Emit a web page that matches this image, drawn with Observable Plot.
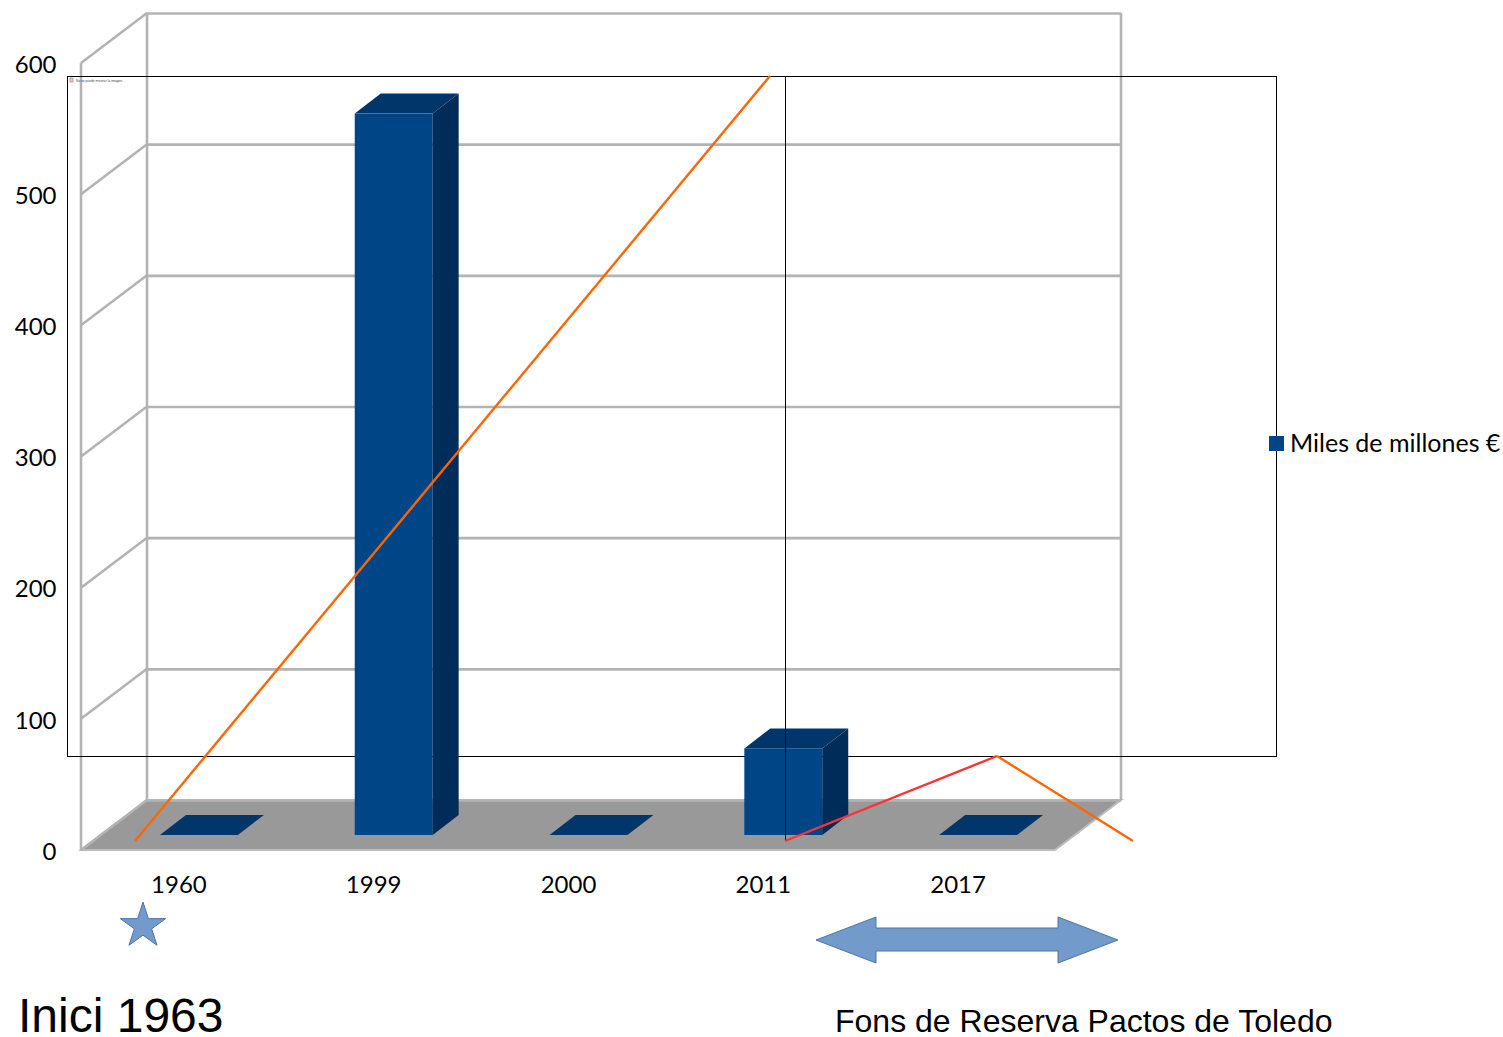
<!DOCTYPE html>
<html lang="es">
<head>
<meta charset="utf-8">
<title>Miles de millones €</title>
<script src="https://cdn.jsdelivr.net/npm/d3@7"></script>
<script src="https://cdn.jsdelivr.net/npm/@observablehq/plot@0.6"></script>
<style>
  html, body { margin: 0; padding: 0; background: #fff; }
  svg { display: block; }
</style>
</head>
<body>
<div id="chart"></div>
<script>
const years = ["1960", "1999", "2000", "2011", "2017"];
const values = [0, 550, 0, 66, 0];
const yTicks = [0, 100, 200, 300, 400, 500, 600];
const seriesName = "Miles de millones €";
const table = years.map((year, i) => ({year, value: values[i]}));

const poly = (c) => c.map((p) => p.join(",")).join(" ");
const WALL = "#b3b3b3";
const labelFont = "Lato, sans-serif";
const noteFont = "'Liberation Sans', Arial, sans-serif";

/* receding floor and wall frame, driven by the y scale */
function room(index, {x, y}) {
  const g = d3.create("svg:g");
  const [l, r] = [81, 1055];
  const D = [66, -50];
  g.append("polygon")
    .attr("points", poly([[l, y(0)], [r, y(0)], [r + D[0], y(0) + D[1]], [l + D[0], y(0) + D[1]]]))
    .attr("fill", "#999").attr("stroke", "#bdbdbd").attr("stroke-width", 2);
  const side = g.append("g").attr("stroke", WALL).attr("stroke-width", 2.6);
  side.selectAll("line.s").data(yTicks).join("line")
    .attr("x1", l).attr("x2", l + D[0])
    .attr("y1", (v) => y(v)).attr("y2", (v) => y(v) + D[1]);
  for (const xp of [l, l + D[0], r + D[0]]) {
    const off = xp === l ? 0 : D[1];
    side.append("line").attr("x1", xp).attr("x2", xp).attr("y1", y(600) + off).attr("y2", y(0) + off);
  }
  return g.node();
}

/* top and side faces of each bar */
function faces(index, {x, y}) {
  const g = d3.create("svg:g");
  const bw = typeof x.bandwidth === "function" ? x.bandwidth() : x.bandwidth;
  const ox = 20.5, oy = -15, dx = 26, dy = -20;
  for (const d of table) {
    const x0 = x(d.year) + ox, x1 = x0 + bw, yb = y(0) + oy, yt = y(d.value) + oy;
    if (d.value > 0) {
      g.append("polygon")
        .attr("points", poly([[x1, yb], [x1 + dx, yb + dy], [x1 + dx, yt + dy], [x1, yt]]))
        .attr("fill", "#002c59");
    }
    g.append("polygon")
      .attr("points", poly([[x0, yt], [x0 + dx, yt + dy], [x1 + dx, yt + dy], [x1, yt]]))
      .attr("fill", "#00366a");
  }
  return g.node();
}

/* placeholder image box that sits behind the bars */
function placeholderBox() {
  const g = d3.create("svg:g");
  g.append("rect").attr("x", 67.5).attr("y", 76.5).attr("width", 1209).attr("height", 680)
    .attr("fill", "none").attr("stroke", "#000").attr("stroke-width", 1);
  g.append("rect").attr("x", 70).attr("y", 78).attr("width", 3).attr("height", 4)
    .attr("fill", "#fbb").attr("stroke", "#888").attr("stroke-width", 0.6);
  g.append("text").attr("x", 76).attr("y", 81.5).text("No se puede mostrar la imagen.")
    .attr("text-anchor", "start")
    .attr("font-size", 3.3).attr("fill", "#444").attr("font-family", noteFont);
  return g.node();
}

function seg(g, pts, stroke, width) {
  g.append("polyline").attr("points", poly(pts))
    .attr("fill", "none").attr("stroke", stroke).attr("stroke-width", width);
}

/* lines, legend and notes pasted above the chart */
function overlay() {
  const g = d3.create("svg:g").attr("text-anchor", "start");
  seg(g, [[785.5, 76], [785.5, 841]], "#000", 1);
  seg(g, [[135, 841], [770, 76]], "#ff6600", 2.4);
  seg(g, [[997, 756], [1133, 841]], "#ff6600", 2.4);
  seg(g, [[785, 841], [997, 756]], "#ff3333", 2.4);
  g.append("rect").attr("x", 1269).attr("y", 436).attr("width", 15).attr("height", 15).attr("fill", "#004586");
  g.append("text").attr("x", 1290).attr("y", 451.5).text(seriesName)
    .attr("font-size", 25).attr("fill", "#000").attr("font-family", labelFont);
  g.append("polygon")
    .attr("points", poly([[816, 940], [876, 917], [876, 928], [1058, 928], [1058, 917], [1118, 940], [1058, 963], [1058, 951], [876, 951], [876, 963]]))
    .attr("fill", "#729aca").attr("stroke", "#4a76a8").attr("stroke-width", 1);
  g.append("text").attr("x", 18).attr("y", 1032).text("Inici 1963")
    .attr("font-size", 48).attr("fill", "#000").attr("font-family", noteFont);
  g.append("text").attr("x", 835).attr("y", 1032).text("Fons de Reserva Pactos de Toledo")
    .attr("font-size", 32).attr("fill", "#000").attr("font-family", noteFont);
  const star = d3.symbol(d3.symbolStar, 642)();
  g.append("path").attr("d", star).attr("transform", "translate(143,926)")
    .attr("fill", "#729aca").attr("stroke", "#4a76a8").attr("stroke-width", 1);
  return g.node();
}

const plot = Plot.plot({
  width: 1503,
  height: 1037,
  marginLeft: 81,
  marginRight: 448,
  marginTop: 63,
  marginBottom: 187,
  style: {background: "#fff", fontFamily: labelFont, overflow: "visible"},
  x: {domain: years, type: "band", paddingInner: 0.6, paddingOuter: 0.3, round: false, label: null},
  y: {domain: [0, 600], label: null},
  marks: [
    room,
    Plot.ruleY(yTicks, {y: (d) => d, dx: 66, dy: -50, stroke: WALL, strokeWidth: 2.6, strokeOpacity: 1}),
    placeholderBox,
    Plot.barY(table, {x: "year", y: "value", dx: 20.5, dy: -15, fill: "#004586"}),
    faces,
    Plot.axisY({ticks: yTicks, tickSize: 0, tickPadding: 25, dy: 1.5, fontSize: 24, fill: "#000", tickFormat: (d) => String(d), label: null}),
    Plot.axisX({tickSize: 0, tickPadding: 25, fontSize: 24, fill: "#000", label: null}),
    overlay
  ]
});
document.getElementById("chart").append(plot);
</script>
</body>
</html>
